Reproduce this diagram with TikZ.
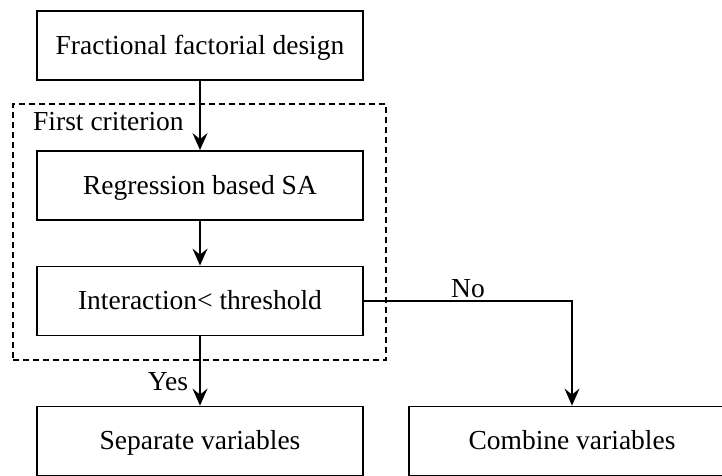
\documentclass[tikz,border=0pt]{standalone}
\usepackage{fontspec}
\setmainfont{Liberation Serif}
\usetikzlibrary{arrows.meta}
\begin{document}
\begin{tikzpicture}[x=1pt,y=-1pt,
  every node/.style={font=\fontsize{27.5}{30}\selectfont},
  procbox/.style={draw, line width=1.8pt, minimum width=326pt, minimum height=69pt, inner sep=0pt,
    text height=21pt, text depth=4pt},
  groupbox/.style={draw, line width=1.4pt, dash pattern=on 6pt off 4pt, minimum width=373pt, minimum height=256pt, inner sep=0pt},
  flow/.style={line width=1.8pt, -{Stealth[length=17pt,width=15pt,inset=6pt]}},
  lbl/.style={inner sep=0pt}
]
\useasboundingbox (0,0) rectangle (722,475);
\clip (0,0) rectangle (722,475);
\fill[white] (0,0) rectangle (722,475);

% dashed group around the first criterion
\node[groupbox] (grp) at (199.5,232) {};
\node[lbl, anchor=west] (grplbl) at (33,122) {First criterion};

% process boxes
\node[procbox] (ffd) at (200,45.5) {Fractional factorial design};
\node[procbox] (reg) at (200,185.5) {Regression based SA};
\node[procbox] (inter) at (200,301) {Interaction< threshold};
\node[procbox] (sep) at (200,441) {Separate variables};
\node[procbox] (comb) at (572,441) {Combine variables};

% connectors
\draw[flow] (ffd.south) -- (reg.north);
\draw[flow] (reg.south) -- (inter.north);
\draw[flow] (inter.south) -- (sep.north);
\draw[flow] (inter.east) -| (comb.north);

% branch labels
\node[lbl] (yes) at (168,382) {Yes};
\node[lbl] (no) at (468,289) {No};
\end{tikzpicture}
\end{document}
